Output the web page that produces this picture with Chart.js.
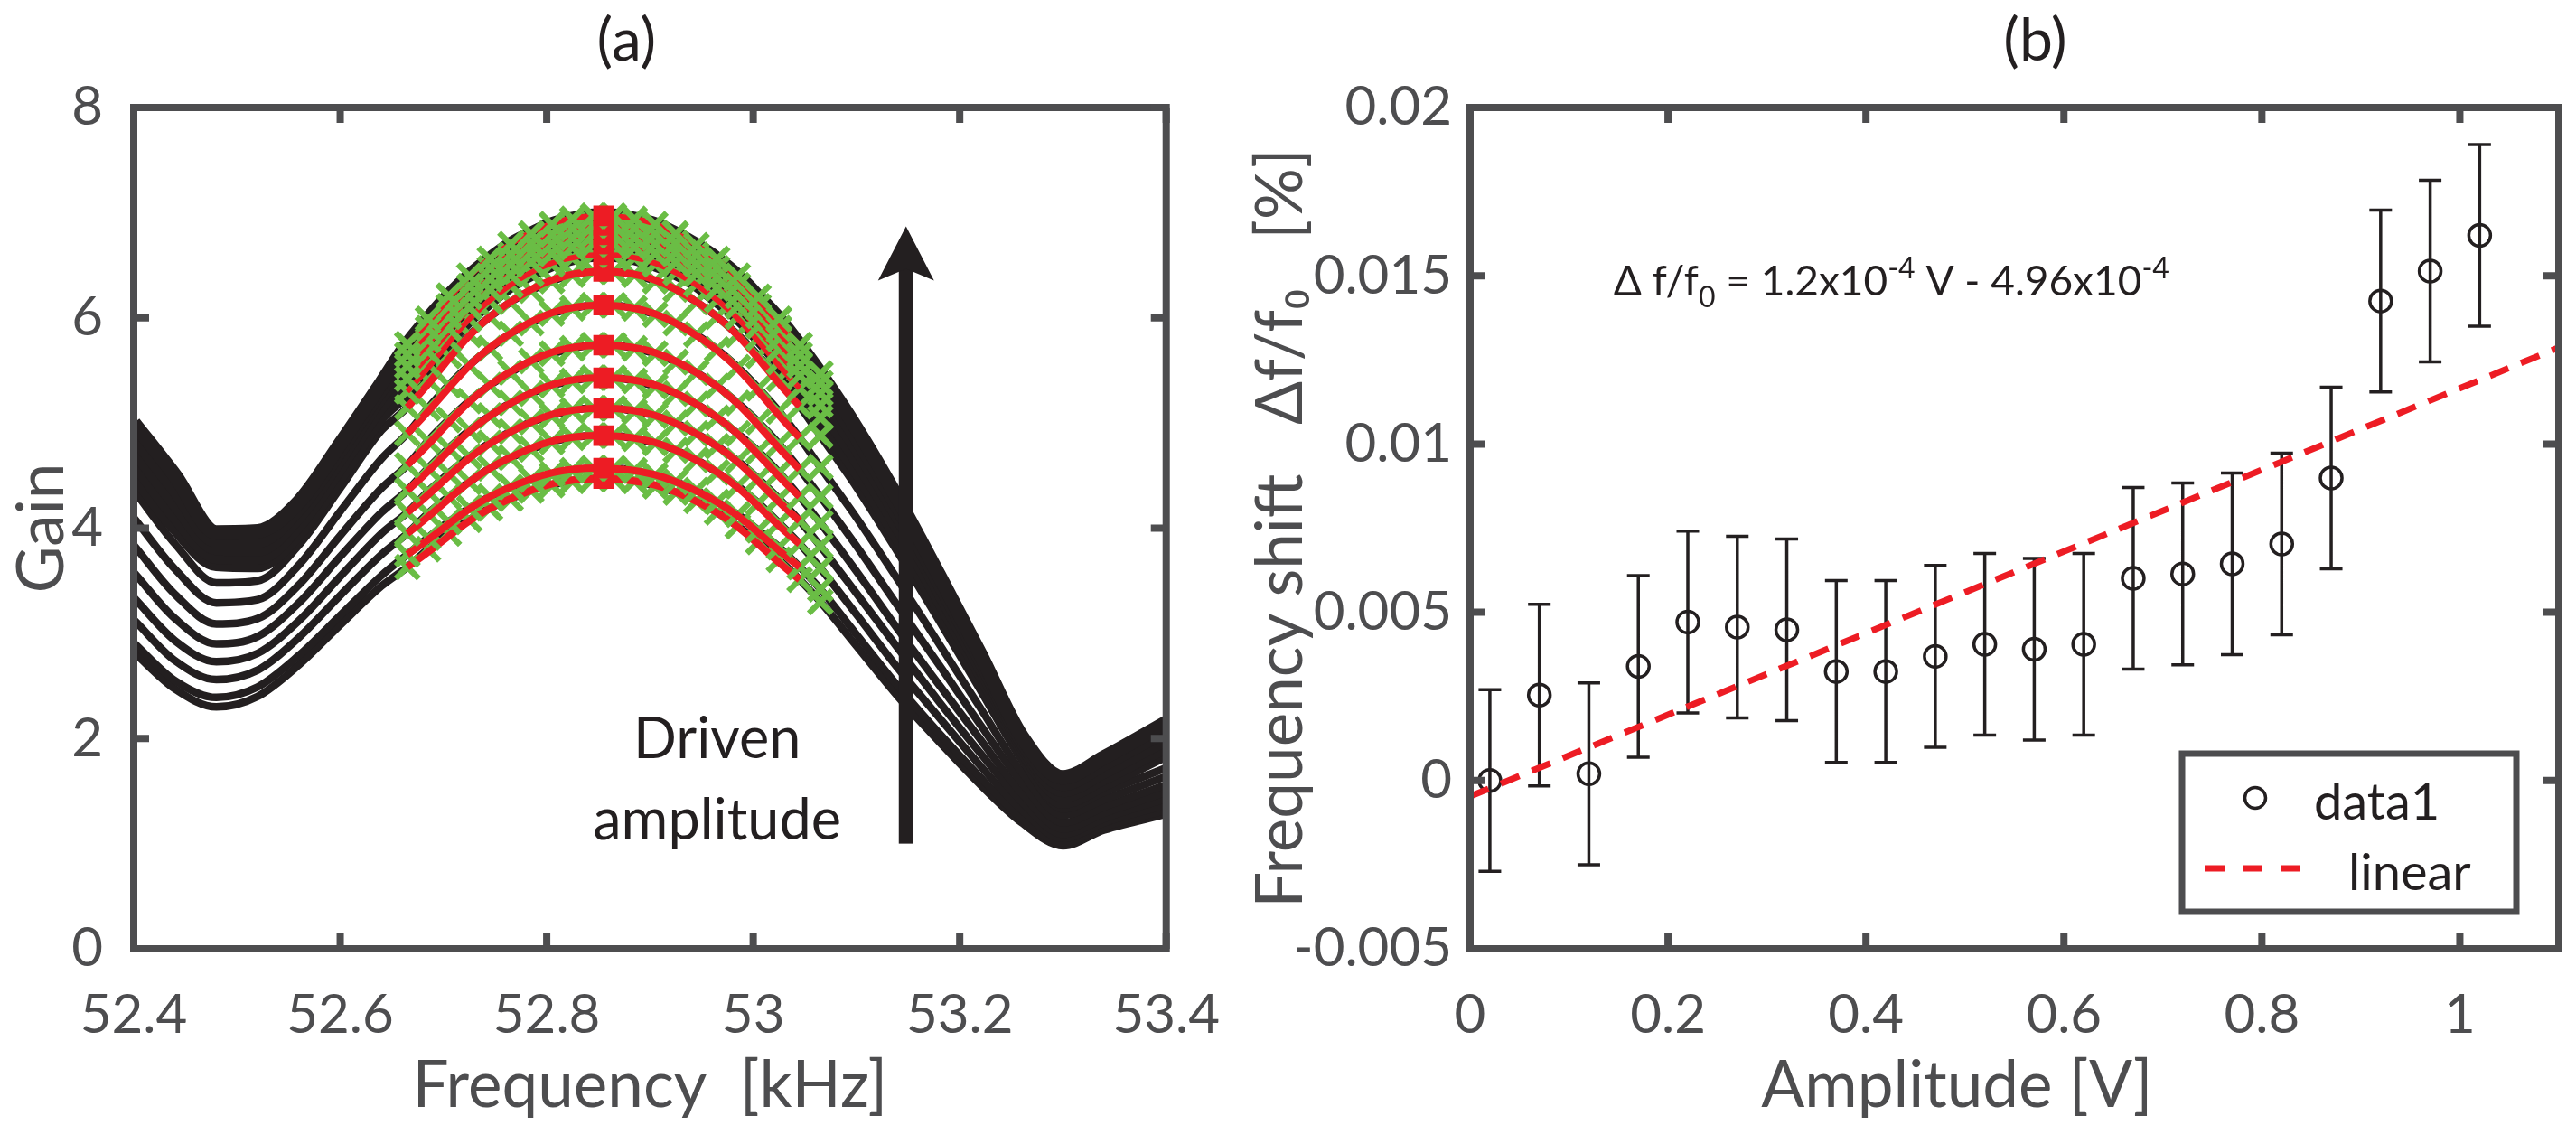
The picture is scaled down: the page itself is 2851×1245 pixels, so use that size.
<!DOCTYPE html>
<html>
<head>
<meta charset="utf-8">
<title>Gain sweeps and frequency shift</title>
<script src="https://cdn.jsdelivr.net/npm/chart.js@4.4.1/dist/chart.umd.min.js"></script>
<style>
  html, body { margin: 0; padding: 0; background: #fff; }
  body { width: 2851px; height: 1245px; position: relative; overflow: hidden; }
  canvas { position: absolute; top: 0; }
  #gainChart { left: 0; }
  #shiftChart { left: 1380px; }
</style>
</head>
<body>
<canvas id="gainChart" width="1380" height="1245"></canvas>
<canvas id="shiftChart" width="1471" height="1245"></canvas>
<script>
// ---- panel (a): gain sweeps, one per driven amplitude (bottom -> top) ----
const freqKHz = [52.40, 52.44, 52.48, 52.52, 52.56, 52.60, 52.64,
  52.665, 52.685, 52.705, 52.725, 52.745, 52.765, 52.785, 52.805, 52.825, 52.845,
  52.865, 52.885, 52.905, 52.925, 52.945, 52.965, 52.985, 53.005, 53.025, 53.045, 53.065,
  53.10, 53.14, 53.18, 53.22, 53.26, 53.30, 53.34, 53.40];

const sweep01 = [2.82, 2.47, 2.30, 2.40, 2.70, 3.08, 3.45,
  3.63, 3.80, 3.95, 4.08, 4.19, 4.28, 4.36, 4.41, 4.45, 4.47,
  4.47, 4.45, 4.40, 4.34, 4.26, 4.15, 4.02, 3.87, 3.70, 3.51, 3.30,
  2.88, 2.40, 1.97, 1.56, 1.20, 0.98, 1.13, 1.28];
const sweep02 = [2.91, 2.55, 2.39, 2.49, 2.79, 3.17, 3.55,
  3.75, 3.91, 4.06, 4.19, 4.30, 4.39, 4.46, 4.51, 4.55, 4.57,
  4.57, 4.55, 4.50, 4.44, 4.36, 4.25, 4.13, 3.98, 3.82, 3.63, 3.42,
  2.99, 2.50, 2.05, 1.63, 1.24, 1.01, 1.16, 1.32];
const sweep03 = [3.13, 2.74, 2.56, 2.65, 2.96, 3.36, 3.75,
  3.95, 4.14, 4.30, 4.44, 4.57, 4.67, 4.75, 4.82, 4.86, 4.88,
  4.88, 4.85, 4.81, 4.74, 4.65, 4.53, 4.40, 4.24, 4.05, 3.85, 3.62,
  3.18, 2.67, 2.20, 1.74, 1.32, 1.05, 1.20, 1.37];
const sweep04 = [3.34, 2.93, 2.73, 2.81, 3.12, 3.54, 3.95,
  4.15, 4.35, 4.52, 4.68, 4.81, 4.92, 5.01, 5.07, 5.12, 5.14,
  5.14, 5.11, 5.07, 5.00, 4.90, 4.78, 4.64, 4.47, 4.28, 4.07, 3.83,
  3.38, 2.86, 2.35, 1.86, 1.40, 1.09, 1.24, 1.43];
const sweep05 = [3.58, 3.14, 2.90, 2.97, 3.29, 3.73, 4.15,
  4.36, 4.57, 4.76, 4.93, 5.07, 5.19, 5.28, 5.36, 5.40, 5.43,
  5.43, 5.40, 5.35, 5.28, 5.18, 5.05, 4.90, 4.73, 4.53, 4.30, 4.05,
  3.59, 3.04, 2.51, 1.99, 1.48, 1.14, 1.29, 1.49];
const sweep06 = [3.84, 3.37, 3.09, 3.14, 3.46, 3.93, 4.38,
  4.60, 4.83, 5.03, 5.21, 5.36, 5.48, 5.59, 5.66, 5.71, 5.74,
  5.74, 5.71, 5.66, 5.58, 5.48, 5.35, 5.19, 5.01, 4.80, 4.56, 4.30,
  3.83, 3.26, 2.70, 2.13, 1.58, 1.20, 1.35, 1.56];
const sweep07 = [4.10, 3.61, 3.29, 3.32, 3.65, 4.16, 4.66,
  4.90, 5.14, 5.36, 5.55, 5.71, 5.85, 5.95, 6.04, 6.09, 6.12,
  6.12, 6.09, 6.03, 5.95, 5.84, 5.70, 5.53, 5.33, 5.11, 4.86, 4.58,
  4.10, 3.51, 2.90, 2.29, 1.68, 1.27, 1.42, 1.64];
const sweep08 = [4.36, 3.85, 3.48, 3.50, 3.84, 4.38, 4.93,
  5.15, 5.41, 5.64, 5.84, 6.01, 6.15, 6.26, 6.35, 6.41, 6.44,
  6.44, 6.41, 6.35, 6.27, 6.15, 6.01, 5.84, 5.64, 5.42, 5.16, 4.88,
  4.39, 3.77, 3.12, 2.46, 1.80, 1.33, 1.49, 1.72];
const sweep09 = [4.52, 4.01, 3.66, 3.65, 3.96, 4.50, 5.07,
  5.30, 5.56, 5.79, 5.99, 6.16, 6.31, 6.42, 6.51, 6.57, 6.60,
  6.60, 6.57, 6.51, 6.43, 6.32, 6.17, 6.01, 5.81, 5.58, 5.33, 5.05,
  4.55, 3.92, 3.25, 2.56, 1.86, 1.40, 1.57, 1.86];
const sweep10 = [4.64, 4.12, 3.73, 3.72, 4.04, 4.59, 5.17,
  5.42, 5.68, 5.90, 6.10, 6.27, 6.41, 6.53, 6.61, 6.67, 6.70,
  6.70, 6.67, 6.61, 6.53, 6.42, 6.28, 6.11, 5.92, 5.70, 5.45, 5.17,
  4.66, 4.02, 3.33, 2.63, 1.91, 1.46, 1.63, 1.93];
const sweep11 = [4.76, 4.24, 3.81, 3.80, 4.12, 4.67, 5.26,
  5.54, 5.79, 6.01, 6.20, 6.37, 6.51, 6.62, 6.70, 6.76, 6.79,
  6.79, 6.76, 6.70, 6.62, 6.51, 6.38, 6.21, 6.02, 5.80, 5.55, 5.28,
  4.77, 4.12, 3.41, 2.69, 1.95, 1.51, 1.69, 2.00];
const sweep12 = [4.88, 4.37, 3.88, 3.88, 4.19, 4.74, 5.32,
  5.65, 5.90, 6.11, 6.30, 6.47, 6.60, 6.71, 6.79, 6.85, 6.88,
  6.88, 6.85, 6.80, 6.71, 6.60, 6.47, 6.31, 6.11, 5.90, 5.65, 5.38,
  4.86, 4.20, 3.48, 2.75, 1.98, 1.57, 1.76, 2.08];
const sweep13 = [5.00, 4.50, 3.96, 3.97, 4.25, 4.80, 5.38,
  5.75, 5.99, 6.21, 6.40, 6.56, 6.70, 6.80, 6.89, 6.94, 6.97,
  6.97, 6.94, 6.89, 6.80, 6.69, 6.56, 6.40, 6.20, 5.99, 5.74, 5.47,
  4.95, 4.28, 3.55, 2.80, 2.02, 1.63, 1.82, 2.15];

// fitted peaks (red), evaluated at a few frequencies
const fitFreq = [52.665, 52.76, 52.855, 52.95, 53.045];
const fit01 = [3.63, 4.26, 4.47, 4.23, 3.51];
const fit02 = [3.75, 4.37, 4.57, 4.33, 3.63];
const fit03 = [3.95, 4.65, 4.88, 4.62, 3.85];
const fit04 = [4.15, 4.89, 5.14, 4.87, 4.07];
const fit05 = [4.36, 5.16, 5.43, 5.15, 4.30];
const fit06 = [4.60, 5.46, 5.74, 5.45, 4.56];
const fit07 = [4.90, 5.82, 6.12, 5.80, 4.86];
const fit08 = [5.15, 6.12, 6.44, 6.12, 5.16];
const fit09 = [5.30, 6.28, 6.60, 6.28, 5.33];
const fit10 = [5.42, 6.38, 6.70, 6.39, 5.45];
const fit11 = [5.54, 6.48, 6.79, 6.48, 5.55];
const fit12 = [5.65, 6.57, 6.88, 6.57, 5.65];
const fit13 = [5.75, 6.67, 6.97, 6.66, 5.74];

const peakFreq = 52.855;
const peakGain = [4.47, 4.57, 4.88, 5.14, 5.43, 5.74, 6.12, 6.44, 6.60, 6.70, 6.79, 6.88, 6.97];
const fitWindow = [52.66, 53.07];

const gainXTicks = [52.4, 52.6, 52.8, 53, 53.2, 53.4];
const gainYTicks = [0, 2, 4, 6, 8];

// arrow + label (data units)
const arrowFreq = 53.148;
const arrowGain = [1.0, 6.87];
const drivenFreq = 52.965;
const drivenGain = [1.81, 1.04];

// ---- panel (b): frequency shift vs amplitude ----
const amplitudeV = [0.02, 0.07, 0.12, 0.17, 0.22, 0.27, 0.32, 0.37, 0.42, 0.47, 0.52,
  0.57, 0.62, 0.67, 0.72, 0.77, 0.82, 0.87, 0.92, 0.97, 1.02];
const freqShift = [0.0000, 0.00254, 0.0002, 0.00339, 0.00471, 0.00456, 0.00448, 0.00324, 0.00324, 0.00369, 0.00405,
  0.0039, 0.00405, 0.00601, 0.00614, 0.00644, 0.00703, 0.00899, 0.01425, 0.01514, 0.0162];
const shiftError = [0.0027, 0.0027, 0.0027, 0.0027, 0.0027, 0.0027, 0.0027, 0.0027, 0.0027, 0.0027, 0.0027,
  0.0027, 0.0027, 0.0027, 0.0027, 0.0027, 0.0027, 0.0027, 0.0027, 0.0027, 0.0027];
const fitAmplitude = [0, 1.1];
const fitShift = [-0.00047, 0.01287];

const shiftXTicks = [0, 0.2, 0.4, 0.6, 0.8, 1];
const shiftYTicks = [-0.005, 0, 0.005, 0.01, 0.015, 0.02];

const eqAnchor = { x: 0.145, y: 0.01442 };

// ---- styling ----
const FONT = 'Lato, "Open Sans", sans-serif';
const AXIS = '#4d4d4f';
const INK = '#231f20';
const GREEN = '#6abd45';
const RED = '#ed1c24';

const fixedTicks = values => scale => { scale.ticks = values.map(v => ({ value: v })); };
const tickText = v => String(+Number(v).toFixed(4));

// MATLAB-like box with inward ticks on all four sides
const framePlugin = {
  id: 'frame',
  afterDraw(chart) {
    const { ctx, chartArea: a, scales: { x, y } } = chart;
    ctx.save();
    ctx.strokeStyle = AXIS;
    ctx.lineWidth = 8;
    ctx.strokeRect(a.left, a.top, a.right - a.left, a.bottom - a.top);
    ctx.beginPath();
    x.ticks.forEach(t => {
      const px = x.getPixelForValue(t.value);
      ctx.moveTo(px, a.bottom); ctx.lineTo(px, a.bottom - 17);
      ctx.moveTo(px, a.top); ctx.lineTo(px, a.top + 17);
    });
    y.ticks.forEach(t => {
      const py = y.getPixelForValue(t.value);
      ctx.moveTo(a.left, py); ctx.lineTo(a.left + 17, py);
      ctx.moveTo(a.right, py); ctx.lineTo(a.right - 17, py);
    });
    ctx.stroke();
    ctx.restore();
  }
};

const panelTitle = {
  id: 'panelTitle',
  afterDraw(chart, args, opts) {
    const { ctx, chartArea: a } = chart;
    ctx.save();
    ctx.font = '66px ' + FONT;
    ctx.fillStyle = INK;
    ctx.textAlign = 'center';
    ctx.textBaseline = 'middle';
    ctx.fillText(opts.text, (a.left + a.right) / 2 + opts.dx, 46);
    ctx.restore();
  }
};

function axisOptions(min, max, ticks, title, tickPad, size, titlePad) {
  return {
    type: 'linear',
    min: min,
    max: max,
    afterBuildTicks: fixedTicks(ticks),
    ticks: {
      callback: tickText,
      color: AXIS,
      font: { family: FONT, size: 60 },
      padding: tickPad,
      maxRotation: 0,
      autoSkip: false
    },
    grid: { display: false },
    border: { display: false },
    title: {
      display: true,
      text: title,
      color: AXIS,
      font: { family: FONT, size: 71, lineHeight: 1 },
      padding: titlePad
    },
    afterFit: size
  };
}

// ---- build panel (a) ----
const sweeps = [sweep01, sweep02, sweep03, sweep04, sweep05, sweep06, sweep07,
  sweep08, sweep09, sweep10, sweep11, sweep12, sweep13];
const fits = [fit01, fit02, fit03, fit04, fit05, fit06, fit07,
  fit08, fit09, fit10, fit11, fit12, fit13];

const gainSets = [];
sweeps.forEach((g, k) => {
  const pts = freqKHz.map((f, i) => ({ x: f, y: g[i] }));
  const base = 100 - 5 * (k + 1);
  const dense = k >= 8;
  gainSets.push({
    data: pts, showLine: true, borderColor: INK, borderWidth: dense ? 16 : 8.5,
    pointRadius: 0, cubicInterpolationMode: 'monotone', borderJoinStyle: 'round', order: 1000 - k
  });
  gainSets.push({
    data: pts.filter(p => p.x >= fitWindow[0] && p.x <= fitWindow[1]),
    showLine: false, pointStyle: 'crossRot', pointRadius: 18, pointBorderWidth: 6.5,
    pointBorderColor: GREEN, pointBackgroundColor: GREEN, order: base + 2
  });
  // in the crowded top group the fitted curves sit under the markers
  gainSets.push({
    data: fitFreq.map((f, i) => ({ x: f, y: fits[k][i] })),
    showLine: true, borderColor: RED, borderWidth: dense ? 6 : 8, pointRadius: 0, tension: 0.4,
    order: k >= 9 ? base + 3 : base + 1
  });
  gainSets.push({
    data: [{ x: peakFreq, y: peakGain[k] }],
    showLine: false, pointStyle: 'rect', pointRadius: 16, pointBorderWidth: 0,
    pointBackgroundColor: RED, order: base
  });
});

const arrowPlugin = {
  id: 'drivenArrow',
  afterDatasetsDraw(chart) {
    const { ctx, scales: { x, y } } = chart;
    const ax = x.getPixelForValue(arrowFreq);
    const yBase = y.getPixelForValue(arrowGain[0]);
    const yTip = y.getPixelForValue(arrowGain[1]);
    ctx.save();
    ctx.fillStyle = INK;
    ctx.fillRect(ax - 8, yTip + 44, 16, yBase - yTip - 44);
    ctx.beginPath();
    ctx.moveTo(ax, yTip);
    ctx.lineTo(ax + 31, yTip + 60);
    ctx.lineTo(ax, yTip + 47);
    ctx.lineTo(ax - 31, yTip + 60);
    ctx.closePath();
    ctx.fill();
    ctx.font = '63px ' + FONT;
    ctx.textAlign = 'center';
    ctx.textBaseline = 'alphabetic';
    const lx = x.getPixelForValue(drivenFreq);
    ctx.fillText('Driven', lx, y.getPixelForValue(drivenGain[0]));
    ctx.fillText('amplitude', lx, y.getPixelForValue(drivenGain[1]));
    ctx.restore();
  }
};

new Chart(document.getElementById('gainChart'), {
  type: 'scatter',
  data: { datasets: gainSets },
  options: {
    responsive: false,
    devicePixelRatio: 1,
    animation: false,
    events: [],
    layout: { padding: { top: 119, right: 28, bottom: 0, left: 0 } },
    scales: {
      x: axisOptions(52.4, 53.4, gainXTicks, 'Frequency  [kHz]', 30, s => { s.height = 195; }, { top: 0, bottom: 7 }),
      y: axisOptions(0, 8, gainYTicks, 'Gain', 26, s => { s.width = 148; }, { top: 12, bottom: 0 })
    },
    plugins: {
      legend: { display: false },
      tooltip: { enabled: false },
      panelTitle: { text: '(a)', dx: -26 }
    }
  },
  plugins: [framePlugin, panelTitle, arrowPlugin]
});

// ---- build panel (b) ----
const errorBarPlugin = {
  id: 'errorBars',
  beforeDatasetsDraw(chart) {
    const { ctx, scales: { x, y } } = chart;
    ctx.save();
    ctx.strokeStyle = INK;
    ctx.lineWidth = 3.5;
    ctx.beginPath();
    amplitudeV.forEach((a, i) => {
      const px = x.getPixelForValue(a);
      const top = y.getPixelForValue(freqShift[i] + shiftError[i]);
      const bot = y.getPixelForValue(freqShift[i] - shiftError[i]);
      ctx.moveTo(px, top); ctx.lineTo(px, bot);
      ctx.moveTo(px - 12.5, top); ctx.lineTo(px + 12.5, top);
      ctx.moveTo(px - 12.5, bot); ctx.lineTo(px + 12.5, bot);
    });
    ctx.stroke();
    ctx.restore();
  }
};

const equationPlugin = {
  id: 'fitEquation',
  afterDatasetsDraw(chart) {
    const { ctx, scales: { x, y } } = chart;
    let px = x.getPixelForValue(eqAnchor.x);
    const py = y.getPixelForValue(eqAnchor.y);
    const parts = [
      ['\u0394 f/f', 0, 46], ['0', 13, 32], [' = 1.2x10', 0, 46], ['-4', -19, 32],
      [' V - 4.96x10', 0, 46], ['-4', -19, 32]
    ];
    ctx.save();
    ctx.fillStyle = INK;
    ctx.textAlign = 'left';
    ctx.textBaseline = 'alphabetic';
    parts.forEach(([txt, dy, size]) => {
      ctx.font = size + 'px ' + FONT;
      ctx.fillText(txt, px, py + dy);
      px += ctx.measureText(txt).width;
    });
    ctx.restore();
  }
};

const legendPlugin = {
  id: 'boxLegend',
  afterDraw(chart) {
    const { ctx, chartArea: a } = chart;
    const w = 370, h = 175;
    const left = a.right - 47 - w, top = a.bottom - 41 - h;
    ctx.save();
    ctx.fillStyle = '#fff';
    ctx.fillRect(left, top, w, h);
    ctx.strokeStyle = AXIS;
    ctx.lineWidth = 7;
    ctx.strokeRect(left, top, w, h);
    ctx.strokeStyle = INK;
    ctx.lineWidth = 3.5;
    ctx.beginPath();
    ctx.arc(left + 81, top + 49, 11.5, 0, Math.PI * 2);
    ctx.stroke();
    ctx.strokeStyle = RED;
    ctx.lineWidth = 7;
    ctx.setLineDash([22, 20]);
    ctx.beginPath();
    ctx.moveTo(left + 25, top + 127);
    ctx.lineTo(left + 133, top + 127);
    ctx.stroke();
    ctx.setLineDash([]);
    ctx.fillStyle = INK;
    ctx.font = '56px ' + FONT;
    ctx.textBaseline = 'alphabetic';
    ctx.fillText('data1', left + 146, top + 73);
    ctx.fillText('linear', left + 184, top + 151);
    ctx.restore();
  }
};

new Chart(document.getElementById('shiftChart'), {
  type: 'scatter',
  data: {
    datasets: [
      {
        label: 'data1',
        data: amplitudeV.map((a, i) => ({ x: a, y: freqShift[i] })),
        showLine: false, pointStyle: 'circle', pointRadius: 12, pointBorderWidth: 3.5,
        pointBorderColor: INK, pointBackgroundColor: 'rgba(0,0,0,0)', order: 1
      },
      {
        label: 'linear',
        data: fitAmplitude.map((a, i) => ({ x: a, y: fitShift[i] })),
        showLine: true, borderColor: RED, borderWidth: 7, borderDash: [22, 15],
        pointRadius: 0, order: 0
      }
    ]
  },
  options: {
    responsive: false,
    devicePixelRatio: 1,
    animation: false,
    events: [],
    layout: { padding: { top: 119, right: 19, bottom: 0, left: 0 } },
    scales: {
      x: axisOptions(0, 1.1, shiftXTicks, 'Amplitude [V]       ', 30, s => { s.height = 195; }, { top: 0, bottom: 7 }),
      y: axisOptions(-0.005, 0.02, shiftYTicks, 'Frequency shift   \u0394f/f\u2080   [%]', 12, s => { s.width = 247; }, { top: 3, bottom: 0 })
    },
    plugins: {
      legend: { display: false },
      tooltip: { enabled: false },
      panelTitle: { text: '(b)', dx: 23 }
    }
  },
  plugins: [framePlugin, panelTitle, errorBarPlugin, equationPlugin, legendPlugin]
});
</script>
</body>
</html>
